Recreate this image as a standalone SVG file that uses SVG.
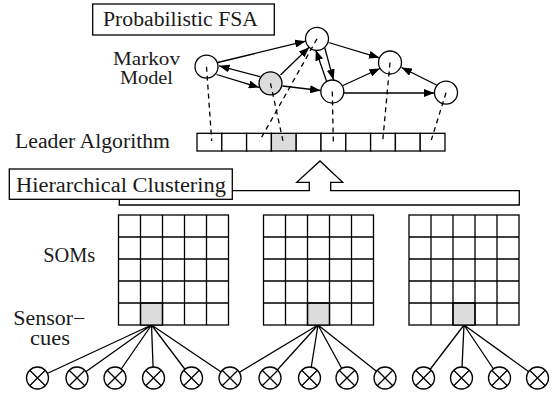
<svg xmlns="http://www.w3.org/2000/svg" width="553" height="399" viewBox="0 0 553 399">
<style>
text{font-family:"Liberation Serif","DejaVu Serif","Times New Roman",serif;font-size:20px;fill:#1a1a1a}
.ln{stroke:#000;stroke-width:1.3;fill:none}
.node{fill:#fff;stroke:#000;stroke-width:1.3}
.cell{fill:#fff;stroke:#000;stroke-width:1.3}
.node.gray,.cell.gray{fill:#dcdcdc}
.dash{stroke:#000;stroke-width:1.3;stroke-dasharray:5,4;fill:none}
.arr{stroke:#000;stroke-width:1.3;fill:none;marker-end:url(#ah)}
.sm{font-size:18px}
</style>
<defs>
<marker id="ah" markerUnits="userSpaceOnUse" markerWidth="11" markerHeight="8" refX="10.5" refY="4" orient="auto">
<path d="M0,0 L10.5,4 L0,8 z" fill="#000"/>
</marker>
<g id="x-sym"><circle r="11" class="node"/><path d="M-7.8,-7.8 L7.8,7.8 M-7.8,7.8 L7.8,-7.8" class="ln"/></g>
</defs>
<rect width="553" height="399" fill="#fff"/>

<g id="fsa-label">
<rect x="92.7" y="4" width="181.6" height="31" fill="#fff" stroke="#000" stroke-width="1.3"/>
<text x="103" y="26" textLength="155" lengthAdjust="spacingAndGlyphs">Probabilistic FSA</text>
</g>
<g id="markov-label">
<text class="sm" x="113" y="65" textLength="67" lengthAdjust="spacingAndGlyphs">Markov</text>
<text class="sm" x="120" y="83.5" textLength="53" lengthAdjust="spacingAndGlyphs">Model</text>
</g>
<g id="leader-label"><text x="15" y="148" textLength="155" lengthAdjust="spacingAndGlyphs">Leader Algorithm</text></g>
<g id="soms-label"><text x="43.3" y="262" textLength="52" lengthAdjust="spacingAndGlyphs">SOMs</text></g>
<g id="sensor-label">
<text x="13.3" y="325" textLength="72" lengthAdjust="spacingAndGlyphs">Sensor−</text>
<text x="30" y="345" textLength="40" lengthAdjust="spacingAndGlyphs">cues</text>
</g>

<g id="leader-bar">
<rect x="197" y="133.3" width="24.8" height="17.7" class="cell"/>
<rect x="221.8" y="133.3" width="24.8" height="17.7" class="cell"/>
<rect x="246.6" y="133.3" width="24.8" height="17.7" class="cell"/>
<rect x="271.4" y="133.3" width="24.8" height="17.7" class="cell gray"/>
<rect x="296.2" y="133.3" width="24.8" height="17.7" class="cell"/>
<rect x="321" y="133.3" width="24.8" height="17.7" class="cell"/>
<rect x="345.8" y="133.3" width="24.8" height="17.7" class="cell"/>
<rect x="370.6" y="133.3" width="24.8" height="17.7" class="cell"/>
<rect x="395.4" y="133.3" width="24.8" height="17.7" class="cell"/>
<rect x="420.2" y="133.3" width="24.8" height="17.7" class="cell"/>
</g>

<g id="nodes">
<g id="n-left"><circle cx="206.5" cy="66.7" r="11.5" class="node"/></g>
<g id="n-gray"><circle cx="270.5" cy="83.3" r="11.5" class="node gray"/></g>
<g id="n-top"><circle cx="317" cy="38.8" r="11.5" class="node"/></g>
<g id="n-mid"><circle cx="332.3" cy="91.5" r="11.5" class="node"/></g>
<g id="n-r1"><circle cx="390" cy="62.5" r="11.5" class="node"/></g>
<g id="n-r2"><circle cx="446" cy="92.7" r="11.5" class="node"/></g>
</g>

<g id="connectors">
<path class="arr" d="M217.7,62.5 L305.5,41.2"/>
<path class="arr" d="M260,76.7 L219,65.8"/>
<path class="arr" d="M216.5,74.5 L259.3,87.5"/>
<path class="arr" d="M280.5,75 L309.2,47.2"/>
<path class="arr" d="M282.5,86 L320.5,90.5"/>
<path class="arr" d="M324.8,48 L333.5,79.8"/>
<path class="arr" d="M326.5,81 L315.8,50"/>
<path class="arr" d="M328.5,42.5 L379.5,57.8"/>
<path class="arr" d="M343,85.5 L380,68.5"/>
<path class="arr" d="M344,93 L434.3,93"/>
<path class="arr" d="M436.5,85 L401.5,67.5"/>
<path class="dash" d="M206.5,66.7 L211.7,141"/>
<path class="dash" d="M270.5,83.3 L283,141"/>
<path class="dash" d="M317,38.8 L259.5,141"/>
<path class="dash" d="M332.3,91.5 L333.3,142"/>
<path class="dash" d="M390,62.5 L382.7,141"/>
<path class="dash" d="M446,92.7 L431.3,140"/>
<path class="ln" d="M151.5,325 L37.5,378 M151.5,325 L77,378 M151.5,325 L115,378 M151.5,325 L153.5,378 M151.5,325 L191.5,378 M151.5,325 L230,378"/>
<path class="ln" d="M318,325 L230,378 M318,325 L270,378 M318,325 L309.5,378 M318,325 L347,378 M318,325 L385,378"/>
<path class="ln" d="M464,325 L423.5,378 M464,325 L461.5,378 M464,325 L499.5,378 M464,325 L537.5,378"/>
</g>

<g id="hier-arrow">
<path d="M119.3,190.7 L309.3,190.7 L309.3,182.3 L296.7,182.3 L320,161 L342.7,182.3 L330.7,182.3 L330.7,190.7 L519.3,190.7 L519.3,205 L119.3,205 Z" fill="#fff" stroke="#000" stroke-width="1.3"/>
</g>
<g id="hier-label">
<rect x="9.3" y="169" width="223" height="30.3" fill="#fff" stroke="#000" stroke-width="1.3"/>
<text x="16" y="191.5" textLength="210" lengthAdjust="spacingAndGlyphs">Hierarchical Clustering</text>
</g>

<g id="som1">
<rect x="118.5" y="215" width="110" height="110" class="cell"/>
<rect x="140.5" y="303" width="22" height="22" class="cell gray"/>
<path class="ln" d="M140.5,215 V325 M162.5,215 V325 M184.5,215 V325 M206.5,215 V325 M118.5,237 H228.5 M118.5,259 H228.5 M118.5,281 H228.5 M118.5,303 H228.5"/>
</g>
<g id="som2">
<rect x="263.5" y="215" width="110" height="110" class="cell"/>
<rect x="307.5" y="303" width="22" height="22" class="cell gray"/>
<path class="ln" d="M285.5,215 V325 M307.5,215 V325 M329.5,215 V325 M351.5,215 V325 M263.5,237 H373.5 M263.5,259 H373.5 M263.5,281 H373.5 M263.5,303 H373.5"/>
</g>
<g id="som3">
<rect x="409" y="215" width="110" height="110" class="cell"/>
<rect x="453" y="303" width="22" height="22" class="cell gray"/>
<path class="ln" d="M431,215 V325 M453,215 V325 M475,215 V325 M497,215 V325 M409,237 H519 M409,259 H519 M409,281 H519 M409,303 H519"/>
</g>

<g id="sensors">
<use href="#x-sym" x="37.5" y="378"/>
<use href="#x-sym" x="77" y="378"/>
<use href="#x-sym" x="115" y="378"/>
<use href="#x-sym" x="153.5" y="378"/>
<use href="#x-sym" x="191.5" y="378"/>
<use href="#x-sym" x="230" y="378"/>
<use href="#x-sym" x="270" y="378"/>
<use href="#x-sym" x="309.5" y="378"/>
<use href="#x-sym" x="347" y="378"/>
<use href="#x-sym" x="385" y="378"/>
<use href="#x-sym" x="423.5" y="378"/>
<use href="#x-sym" x="461.5" y="378"/>
<use href="#x-sym" x="499.5" y="378"/>
<use href="#x-sym" x="537.5" y="378"/>
</g>
</svg>
